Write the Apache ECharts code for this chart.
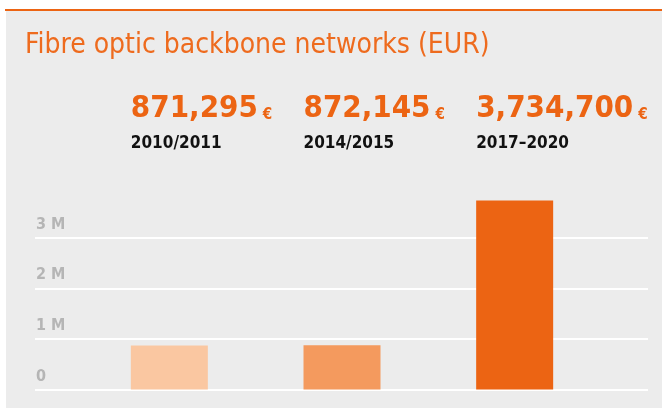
<!DOCTYPE html>
<html>
<head>
<meta charset="utf-8">
<script src="https://cdn.jsdelivr.net/npm/echarts@6/dist/echarts.min.js"></script>
<style>
  html, body { margin: 0; padding: 0; background: #fff; }
  #chart { width: 662px; height: 409px; }
</style>
</head>
<body>
<div id="chart"></div>
<script>
// data
const periods = ['2010/2011', '2014/2015', '2017–2020'];
const amounts = [871295, 872145, 3734700];
const yTicks = [0, 1000000, 2000000, 3000000];
const barColors = ['#FAC7A1', '#F49A5E', '#EC6413'];

const font = 'DejaVu Sans Condensed, DejaVu Sans, sans-serif';
const orange = '#EC6413';

const chart = echarts.init(document.getElementById('chart'));

const fmtMoney = v => v.toLocaleString('en-US');

const option = {
  animation: false,
  backgroundColor: '#fff',
  graphic: [
    { type: 'rect', left: 5, top: 9, shape: { width: 657, height: 2 }, style: { fill: orange }, z: -1 },
    { type: 'rect', left: 6, top: 11, shape: { width: 656, height: 397 }, style: { fill: '#ECECEC' }, z: -2 }
  ],
  title: {
    text: 'Fibre optic backbone networks (EUR)',
    left: 20,
    top: 27,
    textStyle: { fontFamily: font, fontSize: 28, fontWeight: 'normal', color: '#EE6B1E' }
  },
  grid: [
    { left: 35, right: 14, top: 187, bottom: 19.5 },
    { left: 83, right: 61, top: 187, bottom: 19.5 }
  ],
  xAxis: [
    { gridIndex: 0, type: 'category', data: periods, show: false },
    {
      gridIndex: 1,
      type: 'category',
      data: periods,
      position: 'top',
      axisLine: { show: false },
      axisTick: { show: false },
      axisLabel: {
        margin: 32,
        width: 77,
        align: 'center',
        formatter: (v, i) => `{v|${fmtMoney(amounts[i])}}{e|€}\n{y|${v}}`,
        rich: {
          v: { fontFamily: font, fontSize: 31, fontWeight: 'bold', color: orange, align: 'left', lineHeight: 48 },
          e: { fontFamily: font, fontSize: 15, fontWeight: 'bold', color: orange, align: 'left', lineHeight: 48, padding: [12, 0, 0, 5] },
          y: { fontFamily: font, fontSize: 17, fontWeight: 'bold', color: '#111', align: 'left', lineHeight: 22 }
        }
      }
    }
  ],
  yAxis: [
    {
      gridIndex: 0,
      type: 'value',
      min: 0,
      max: 4000000,
      interval: 1000000,
      axisLine: { show: false },
      axisTick: { show: false },
      splitLine: { showMaxLine: false, lineStyle: { color: '#fff', width: 2 } },
      axisLabel: {
        inside: true,
        showMaxLabel: false,
        margin: 1,
        verticalAlign: 'bottom',
        padding: [0, 0, 5, 0],
        fontFamily: font,
        fontSize: 16,
        fontWeight: 'bold',
        color: '#B5B5B5',
        formatter: v => (yTicks.includes(v) ? (v === 0 ? '0' : v / 1000000 + ' M') : '')
      }
    },
    { gridIndex: 1, type: 'value', min: 0, max: 4000000, show: false, splitLine: { show: false } }
  ],
  series: [
    {
      type: 'bar',
      xAxisIndex: 1,
      yAxisIndex: 1,
      barWidth: 77,
      data: amounts.map((v, i) => ({ value: v, itemStyle: { color: barColors[i] } }))
    }
  ]
};

chart.setOption(option);
</script>
</body>
</html>
